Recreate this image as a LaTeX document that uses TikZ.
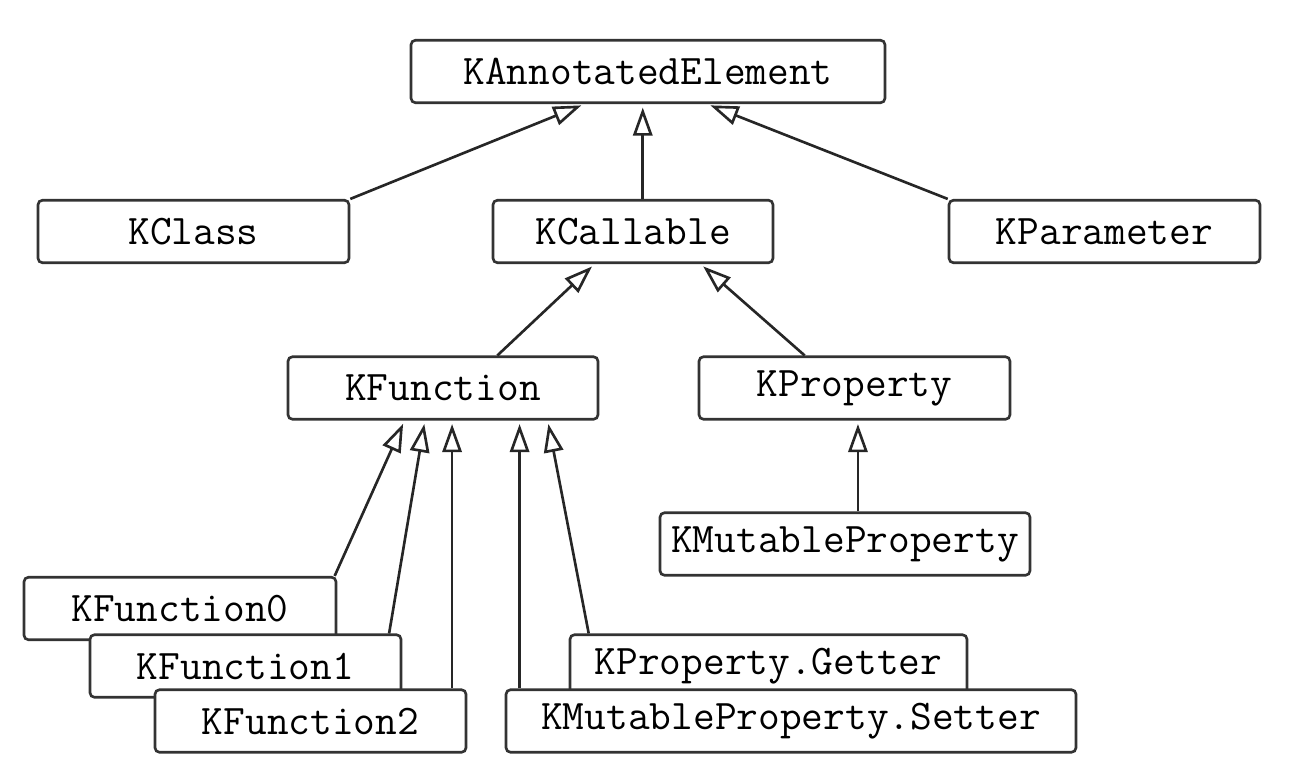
\documentclass[tikz,border=0pt]{standalone}
\usetikzlibrary{arrows.meta,calc}
\tikzset{
  cls/.style={draw=black!80, line width=1.5pt, rounded corners=2.5pt, fill=white, minimum height=1.25cm, inner sep=0pt, font=\ttfamily\fontsize{24}{28}\selectfont},
  inherit/.style={draw=black!85, line width=1.5pt, shorten >=2pt, -{Triangle[open,length=16pt,width=11pt]}}
}
\begin{document}
\begin{tikzpicture}[x=0.02cm, y=-0.02cm]
\useasboundingbox (0,0) rectangle (1308,784);
\node[cls, minimum width=9.48cm] (kann) at (648,71.5){KAnnotatedElement};
\node[cls, minimum width=6.22cm] (kclass) at (193.5,231.5){KClass};
\node[cls, minimum width=5.6cm] (kcall) at (633,231.5){KCallable};
\node[cls, minimum width=6.22cm] (kparam) at (1104.5,231.5){KParameter};
\coordinate (kann-t1) at ($(kann.south west)!0.367!(kann.south east)$);
\coordinate (kann-t2) at ($(kann.south west)!0.489!(kann.south east)$);
\coordinate (kann-t3) at ($(kann.south west)!0.624!(kann.south east)$);
\draw[inherit](kclass.north east) -- (kann-t1);
\draw[inherit](kann-t2 |- kcall.north) -- (kann-t2);
\draw[inherit](kparam.north west) -- (kann-t3);
\node[cls, minimum width=6.2cm] (kfun) at (443,388){KFunction};
\node[cls, minimum width=6.22cm] (kprop) at (854.5,388){KProperty};
\draw[inherit]($(kfun.north west)!0.674!(kfun.north east)$) -- ($(kcall.south west)!0.364!(kcall.south east)$);
\draw[inherit]($(kprop.north west)!0.341!(kprop.north east)$) -- ($(kcall.south west)!0.739!(kcall.south east)$);
\node[cls, minimum width=7.4cm] (kmutprop) at (845,544){KMutableProperty};
\coordinate (kprop-t) at ($(kprop.south west)!0.511!(kprop.south east)$);
\draw[inherit](kprop-t |- kmutprop.north) -- (kprop-t);
\node[cls, minimum width=6.24cm] (kfun0) at (180,608.5){KFunction0};
\node[cls, minimum width=6.22cm] (kfun1) at (245.5,666){KFunction1};
\node[cls, minimum width=6.22cm] (kfun2) at (310.5,721){KFunction2};
\node[cls, minimum width=7.94cm] (kget) at (768.5,666){KProperty.Getter};
\node[cls, minimum width=11.4cm] (kset) at (791,721){KMutableProperty.Setter};
\coordinate (kfun-t1) at ($(kfun.south west)!0.377!(kfun.south east)$);
\coordinate (kfun-t2) at ($(kfun.south west)!0.442!(kfun.south east)$);
\coordinate (kfun-t3) at ($(kfun.south west)!0.529!(kfun.south east)$);
\coordinate (kfun-t4) at ($(kfun.south west)!0.745!(kfun.south east)$);
\coordinate (kfun-t5) at ($(kfun.south west)!0.835!(kfun.south east)$);
\draw[inherit]([xshift=-1.5pt]kfun0.north east) -- (kfun-t1);
\draw[inherit]($(kfun1.north west)!0.958!(kfun1.north east)$) -- (kfun-t2);
\draw[inherit](kfun-t3 |- kfun2.north) -- (kfun-t3);
\draw[inherit](kfun-t4 |- kset.north) -- (kfun-t4);
\draw[inherit]($(kget.north west)!0.05!(kget.north east)$) -- (kfun-t5);
\end{tikzpicture}
\end{document}
